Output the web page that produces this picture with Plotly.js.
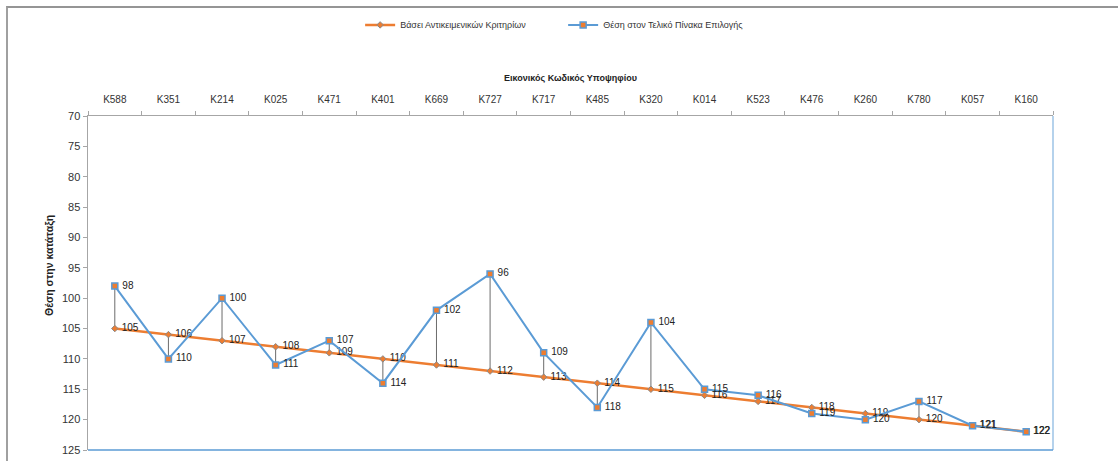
<!DOCTYPE html>
<html>
<head>
<meta charset="utf-8">
<script src="https://cdn.plot.ly/plotly-3.0.1.min.js"></script>
<style>
html,body{margin:0;padding:0;background:#fff;overflow:hidden;}
#wrap{position:relative;width:1118px;height:461px;overflow:hidden;}
#chart{position:absolute;left:0;top:0;width:1118px;height:461px;}
#frame{position:absolute;left:6px;top:6px;width:1200px;height:600px;border-top:2px solid #959595;border-left:2px solid #a0a0a0;pointer-events:none;z-index:10;}
</style>
</head>
<body>
<div id="wrap"><div id="chart"></div><div id="frame"></div></div>
<script>
const categories = ["K588","K351","K214","K025","K471","K401","K669","K727","K717","K485","K320","K014","K523","K476","K260","K780","K057","K160"];
const objectiveRank = [105,106,107,108,109,110,111,112,113,114,115,116,117,118,119,120,121,122];
const finalRank = [98,110,100,111,107,114,102,96,109,118,104,115,116,119,120,117,121,122];
const objectiveName = "Βάσει Αντικειμενικών Κριτηρίων";
const finalName = "Θέση στον Τελικό Πίνακα Επιλογής";
const xTitle = "Εικονικός Κωδικός Υποψηφίου";
const yTitle = "Θέση στην κατάταξη";
const yTicks = [70,75,80,85,90,95,100,105,110,115,120,125];

const FONT = "'Liberation Sans Narrow', 'Liberation Sans', Arial, sans-serif";

// high-low drop lines between the two series
const dropX = [], dropY = [];
categories.forEach((c, i) => {
  dropX.push(c, c, null);
  dropY.push(objectiveRank[i], finalRank[i], null);
});

const traces = [
  {
    x: dropX, y: dropY, mode: "lines", type: "scatter",
    line: {color: "#6b6b6b", width: 1},
    showlegend: false, hoverinfo: "skip", cliponaxis: false
  },
  {
    x: categories, y: objectiveRank, name: objectiveName,
    mode: "lines+markers+text", type: "scatter",
    line: {color: "#ED7D31", width: 2.5},
    marker: {symbol: "diamond", size: 5, color: "#ED7D31", line: {color: "#8a8a8a", width: 1}},
    text: objectiveRank.map(v => " " + v), textposition: "middle right",
    textfont: {family: FONT, size: 10, color: "#222"},
    cliponaxis: false
  },
  {
    x: categories, y: finalRank, name: finalName,
    mode: "lines+markers+text", type: "scatter",
    line: {color: "#5B9BD5", width: 2},
    marker: {symbol: "square", size: 6, color: "#ED7D31", line: {color: "#5B9BD5", width: 1.5}},
    text: finalRank.map(v => " " + v), textposition: "middle right",
    textfont: {family: FONT, size: 10, color: "#222"},
    cliponaxis: false
  }
];

const layout = {
  width: 1118, height: 461,
  margin: {l: 88, r: 65, t: 116, b: 11, pad: 0, autoexpand: false},
  paper_bgcolor: "#fff", plot_bgcolor: "#fff",
  font: {family: FONT, size: 10, color: "#333"},
  showlegend: true,
  legend: {
    orientation: "h", x: 0.282, xref: "paper", y: 0.946, yref: "container",
    xanchor: "left", yanchor: "middle", bgcolor: "rgba(0,0,0,0)",
    font: {family: FONT, size: 9, color: "#333"},
    traceorder: "normal", itemwidth: 30, entrywidth: 158, entrywidthmode: "pixels"
  },
  xaxis: {
    type: "category", side: "top", categoryorder: "array", categoryarray: categories,
    range: [-0.5, categories.length - 0.5],
    showline: true, linecolor: "#a6a6a6", linewidth: 1.5,
    ticks: "outside", ticklen: 4, tickcolor: "#a6a6a6", tickson: "boundaries",
    ticklabelstandoff: 8,
    showgrid: false, zeroline: false,
    tickfont: {family: FONT, size: 10, color: "#333"},
    title: {text: xTitle, font: {family: FONT, size: 9, color: "#222", weight: "bold"}, standoff: 10}
  },
  yaxis: {
    autorange: false, range: [125, 70],
    tickvals: yTicks,
    showline: true, linecolor: "#a6a6a6", linewidth: 1.5,
    ticks: "outside", ticklen: 4, tickcolor: "#a6a6a6",
    showgrid: false, zeroline: false,
    tickfont: {family: FONT, size: 11, color: "#333"}
  },
  annotations: [
    {text: yTitle, xref: "paper", yref: "paper", x: -0.0394, y: 0.554,
     xanchor: "center", yanchor: "middle", textangle: -90, showarrow: false,
     font: {family: FONT, size: 10.5, color: "#222", weight: "bold"}}
  ],
  shapes: [
    {type: "line", xref: "paper", yref: "paper", x0: 1, x1: 1, y0: 0, y1: 1, line: {color: "#9dc3e6", width: 1.5}},
    {type: "line", xref: "paper", yref: "paper", x0: 0, x1: 1, y0: 0, y1: 0, line: {color: "#5B9BD5", width: 1.5}}
  ]
};

Plotly.newPlot("chart", traces, layout, {displayModeBar: false, staticPlot: true});
</script>
</body>
</html>
